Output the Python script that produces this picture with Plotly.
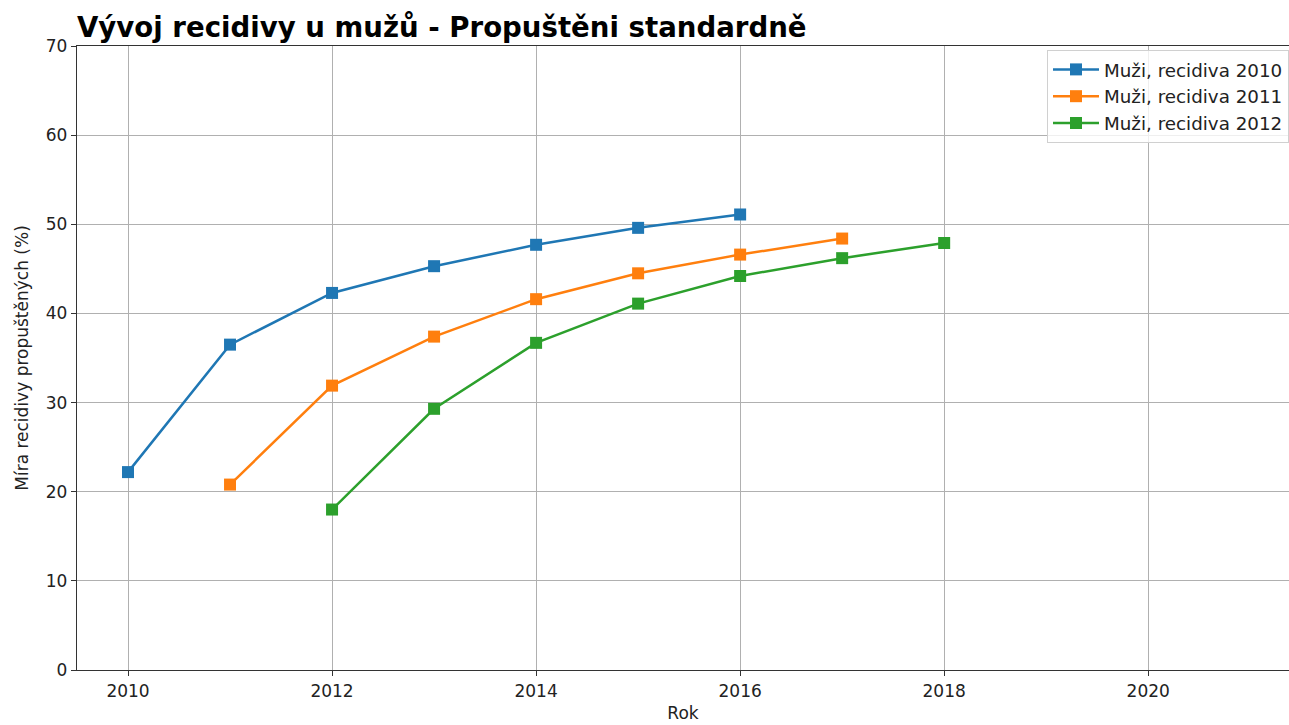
import plotly.graph_objects as go

years_2010 = [2010, 2011, 2012, 2013, 2014, 2015, 2016]
rates_2010 = [22.2, 36.5, 42.3, 45.3, 47.7, 49.6, 51.1]
years_2011 = [2011, 2012, 2013, 2014, 2015, 2016, 2017]
rates_2011 = [20.8, 31.9, 37.4, 41.6, 44.5, 46.6, 48.4]
years_2012 = [2012, 2013, 2014, 2015, 2016, 2017, 2018]
rates_2012 = [18.0, 29.3, 36.7, 41.1, 44.2, 46.2, 47.9]

names = ["Muži, recidiva 2010", "Muži, recidiva 2011", "Muži, recidiva 2012"]
colors = ["#1f77b4", "#ff7f0e", "#2ca02c"]
series = [(years_2010, rates_2010), (years_2011, rates_2011), (years_2012, rates_2012)]

FONT = "DejaVu Sans"
TXT = "#222222"
fig = go.Figure()
for (xs, ys), name, c in zip(series, names, colors):
    fig.add_trace(go.Scatter(
        x=xs, y=ys, mode="lines+markers", name=name,
        line=dict(color=c, width=2.5),
        marker=dict(symbol="square", size=12, color=c),
    ))

W, H = 1289, 725
L, T, B = 77, 46, 55
PW, PH = W - L, H - T - B
fig.update_layout(
    width=W, height=H,
    margin=dict(l=L, r=0, t=T, b=B),
    paper_bgcolor="white", plot_bgcolor="white",
    font=dict(family=FONT, size=17, color=TXT),
    title=dict(
        text="<b>Vývoj recidivy u mužů - Propuštěni standardně</b>",
        font=dict(family=FONT, size=27.6, color="black"),
        x=0, xanchor="left", xref="paper",
        y=1 - 27 / H, yanchor="middle", yref="container",
    ),
    xaxis=dict(
        range=[2009.5, 2021.38], tickvals=[2010, 2012, 2014, 2016, 2018, 2020],
        showgrid=True, gridcolor="#b0b0b0", gridwidth=1,
        showline=True, linecolor="#333", linewidth=1.3, mirror=True,
        ticks="outside", ticklen=5, tickcolor="#333",
        tickfont=dict(family=FONT, size=17, color=TXT),
        title=dict(text="Rok", font=dict(family=FONT, size=17, color=TXT), standoff=7),
        zeroline=False,
    ),
    yaxis=dict(
        range=[0, 70], tickvals=[0, 10, 20, 30, 40, 50, 60, 70],
        showgrid=True, gridcolor="#b0b0b0", gridwidth=1,
        showline=True, linecolor="#333", linewidth=1.3,
        ticks="outside", ticklen=5, tickcolor="#333",
        tickfont=dict(family=FONT, size=17, color=TXT),
        title=dict(text="Míra recidivy propuštěných (%)", font=dict(family=FONT, size=17, color=TXT), standoff=12),
        zeroline=False,
    ),
    legend=dict(
        x=(1047 - L) / PW, xanchor="left",
        y=1 - (50 - T) / PH, yanchor="top",
        bgcolor="rgba(255,255,255,0.8)", bordercolor="#d0d0d0", borderwidth=1,
        font=dict(family=FONT, size=18.3, color=TXT),
        itemwidth=46,
    ),
)

fig.write_html(
    "out.html",
    config={"displayModeBar": False},
    post_script="document.body.style.margin='0';document.body.style.overflow='hidden';"
                "document.documentElement.style.overflow='hidden';",
)
